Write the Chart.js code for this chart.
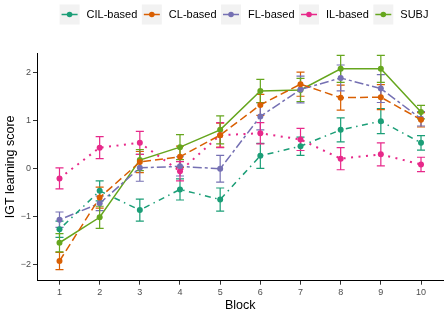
<!DOCTYPE html>
<html>
<head>
<meta charset="utf-8">
<script src="https://cdn.jsdelivr.net/npm/chart.js@4/dist/chart.umd.min.js"></script>
<style>
  html, body { margin: 0; padding: 0; background: #fff; }
  #wrap { width: 447px; height: 317px; position: relative; }
</style>
</head>
<body>
<div id="wrap"><canvas id="igt-chart" width="447" height="317"></canvas></div>
<script>
// 블록 번호와 x/y 눈금
var blocks = [1, 2, 3, 4, 5, 6, 7, 8, 9, 10];
var xTicks = [1, 2, 3, 4, 5, 6, 7, 8, 9, 10];
var yTicks = [-2, -1, 0, 1, 2];

var seriesNames = ['CIL-based', 'CL-based', 'FL-based', 'IL-based', 'SUBJ'];

// 평균값
var cilMean  = [-1.26, -0.46, -0.86, -0.43, -0.64, 0.27, 0.47, 0.81, 0.99, 0.54];
var clMean   = [-1.92, -0.60, 0.14, 0.25, 0.70, 1.33, 1.76, 1.48, 1.49, 1.02];
var flMean   = [-1.06, -0.72, 0.02, 0.05, 0.00, 1.09, 1.65, 1.89, 1.67, 1.04];
var ilMean   = [-0.20, 0.44, 0.54, -0.05, 0.70, 0.74, 0.61, 0.21, 0.30, 0.09];
var subjMean = [-1.54, -1.01, 0.18, 0.45, 0.81, 1.62, 1.64, 2.08, 2.08, 1.18];

// 오차 막대 (± 값)
var cilErr  = [0.17, 0.21, 0.23, 0.22, 0.24, 0.26, 0.19, 0.25, 0.26, 0.15];
var clErr   = [0.18, 0.22, 0.22, 0.22, 0.25, 0.22, 0.25, 0.26, 0.26, 0.15];
var flErr   = [0.16, 0.15, 0.28, 0.20, 0.28, 0.28, 0.28, 0.27, 0.29, 0.15];
var ilErr   = [0.22, 0.23, 0.24, 0.20, 0.26, 0.22, 0.23, 0.23, 0.24, 0.15];
var subjErr = [0.19, 0.23, 0.22, 0.26, 0.29, 0.24, 0.24, 0.28, 0.28, 0.14];

var colors = ['#1b9e77', '#d95f02', '#7570b3', '#e7298a', '#66a61e'];
var dashes = [[1.5, 4.5, 6, 4.5], [8, 4], [3, 3, 9, 3], [2, 5.5], []];

var FONT = "'Liberation Sans', Arial, Helvetica, sans-serif";

function toPoints(means) {
  return blocks.map(function (b, i) { return { x: b, y: means[i] }; });
}

var allMeans = [cilMean, clMean, flMean, ilMean, subjMean];
var allErrs = [cilErr, clErr, flErr, ilErr, subjErr];

var datasets = seriesNames.map(function (name, i) {
  return {
    label: name,
    data: toPoints(allMeans[i]),
    errors: allErrs[i],
    borderColor: colors[i],
    backgroundColor: colors[i],
    borderWidth: i === 3 ? 2 : 1.5,
    borderDash: dashes[i],
    pointRadius: 3,
    pointBorderWidth: 0,
    pointHoverRadius: 3,
    tension: 0,
    fill: false
  };
});

// 오차 막대: 스케일을 통해 그림
var errorBarPlugin = {
  id: 'errorBars',
  beforeDatasetsDraw: function (chart) {
    var ctx = chart.ctx;
    var xs = chart.scales.x, ys = chart.scales.y;
    var capHalf = Math.abs(xs.getPixelForValue(0.1) - xs.getPixelForValue(0));
    ctx.save();
    chart.data.datasets.forEach(function (ds) {
      ctx.strokeStyle = ds.borderColor;
      ctx.lineWidth = 1.2;
      ctx.setLineDash([]);
      ds.data.forEach(function (p, i) {
        var px = xs.getPixelForValue(p.x);
        var lo = ys.getPixelForValue(p.y - ds.errors[i]);
        var hi = ys.getPixelForValue(p.y + ds.errors[i]);
        ctx.beginPath();
        ctx.moveTo(px, lo); ctx.lineTo(px, hi);
        ctx.moveTo(px - capHalf, lo); ctx.lineTo(px + capHalf, lo);
        ctx.moveTo(px - capHalf, hi); ctx.lineTo(px + capHalf, hi);
        ctx.stroke();
      });
    });
    ctx.restore();
  }
};

// ggplot 풍 범례 (회색 키 상자 + 선 + 점)
var legendPlugin = {
  id: 'ggLegend',
  afterDraw: function (chart) {
    var ctx = chart.ctx;
    var keyW = 20, gapKT = 7, gapTK = 4.5, cy = 14.5;
    ctx.save();
    ctx.font = '11px ' + FONT;
    var widths = chart.data.datasets.map(function (ds) { return ctx.measureText(ds.label).width; });
    var total = 0;
    widths.forEach(function (w, i) { total += keyW + gapKT + w + (i < widths.length - 1 ? gapTK : 0); });
    var x = 244 - total / 2;
    chart.data.datasets.forEach(function (ds, i) {
      ctx.fillStyle = '#f2f2f2';
      ctx.fillRect(x, cy - 10, keyW, 20);
      ctx.strokeStyle = ds.borderColor;
      ctx.lineWidth = 1.5;
      ctx.setLineDash([]);
      ctx.beginPath();
      ctx.moveTo(x + 2, cy); ctx.lineTo(x + keyW - 2, cy);
      ctx.stroke();
      ctx.fillStyle = ds.borderColor;
      ctx.beginPath();
      ctx.arc(x + keyW / 2, cy, 2.8, 0, Math.PI * 2);
      ctx.fill();
      ctx.fillStyle = '#000';
      ctx.textBaseline = 'middle';
      ctx.textAlign = 'left';
      ctx.fillText(ds.label, x + keyW + gapKT, cy + 0.5);
      x += keyW + gapKT + widths[i] + gapTK;
    });
    ctx.restore();
  }
};

var tickFont = { family: FONT, size: 9 };
var titleFont = { family: FONT, size: 12.5 };

new Chart(document.getElementById('igt-chart').getContext('2d'), {
  type: 'line',
  data: { datasets: datasets },
  plugins: [errorBarPlugin, legendPlugin],
  options: {
    responsive: false,
    animation: false,
    layout: { padding: { top: 53, left: 0, right: 3.5, bottom: 3.5 } },
    plugins: {
      legend: { display: false },
      tooltip: { enabled: false }
    },
    scales: {
      x: {
        type: 'linear',
        min: 0.44,
        max: 10.56,
        afterBuildTicks: function (scale) {
          scale.ticks = xTicks.map(function (v) { return { value: v }; });
        },
        afterFit: function (scale) { scale.height = 32.8; },
        ticks: { color: '#4d4d4d', font: tickFont, padding: 2, maxRotation: 0 },
        grid: { drawOnChartArea: false, drawTicks: true, tickLength: 4, tickColor: '#333', tickWidth: 1 },
        border: { display: true, color: '#000', width: 1 },
        title: { display: true, text: 'Block', color: '#000', font: titleFont, padding: { top: 0, bottom: 0 } }
      },
      y: {
        type: 'linear',
        min: -2.33,
        max: 2.41,
        afterBuildTicks: function (scale) {
          scale.ticks = yTicks.map(function (v) { return { value: v }; });
        },
        afterFit: function (scale) { scale.width = 37; },
        ticks: {
          color: '#4d4d4d', font: tickFont, padding: 2,
          callback: function (v) { return v < 0 ? '\u2212' + Math.abs(v) : String(v); }
        },
        grid: { drawOnChartArea: false, drawTicks: true, tickLength: 4, tickColor: '#333', tickWidth: 1 },
        border: { display: true, color: '#000', width: 1 },
        title: { display: true, text: 'IGT learning score', color: '#000', font: titleFont, padding: { top: 3, bottom: 0 } }
      }
    }
  }
});
</script>
</body>
</html>
